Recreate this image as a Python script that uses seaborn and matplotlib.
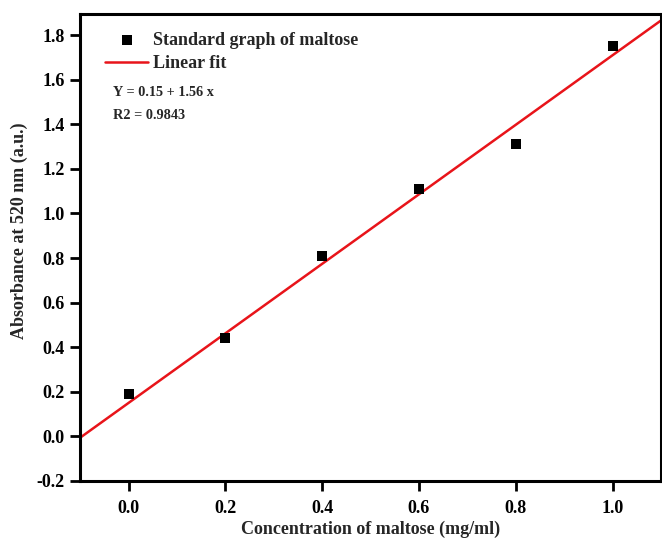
import numpy as np
import pandas as pd
import matplotlib
matplotlib.use("Agg")
import matplotlib.pyplot as plt
import seaborn as sns

# Maltose standard curve
concentration = [0.0, 0.2, 0.4, 0.6, 0.8, 1.0]
absorbance = [0.19, 0.44, 0.81, 1.11, 1.31, 1.75]
fit_intercept = 0.15
fit_slope = 1.56
r2_value = 0.9843
x_ticks = [0.0, 0.2, 0.4, 0.6, 0.8, 1.0]
y_ticks = [-0.2, 0.0, 0.2, 0.4, 0.6, 0.8, 1.0, 1.2, 1.4, 1.6, 1.8]

sns.set_theme(style="ticks")
plt.rcParams["font.family"] = ["Liberation Serif", "DejaVu Serif"]
plt.rcParams["font.weight"] = "bold"

fig = plt.figure(figsize=(6.62, 5.38), dpi=100)
ax = fig.add_axes([0.121, 0.106, 0.8775, 0.868])

xlim = (-0.1, 1.1)
ylim = (-0.2, 1.895)

points = pd.DataFrame({"x": concentration, "y": absorbance})
fit_x = np.array(xlim)
fit = pd.DataFrame({"x": fit_x, "y": fit_intercept + fit_slope * fit_x})

sns.lineplot(data=fit, x="x", y="y", color="#e8141a", linewidth=1.8,
             ax=ax, label="Linear fit", zorder=2)
sns.scatterplot(data=points, x="x", y="y", marker="s", s=60, color="black",
                edgecolor="black", linewidth=0, ax=ax,
                label="Standard graph of maltose", zorder=3)

ax.set_xlim(*xlim)
ax.set_ylim(*ylim)
ax.set_xticks(x_ticks)
ax.set_xticklabels([f"{v:.1f}" for v in x_ticks])
ax.set_yticks(y_ticks)
ax.set_yticklabels([f"{v:.1f}" for v in y_ticks])

for s in ax.spines.values():
    s.set_linewidth(2.2)
    s.set_color("black")
    s.set_visible(True)
ax.tick_params(axis="both", direction="out", length=7, width=2,
               labelsize=13, colors="black")
ax.tick_params(axis="x", pad=7)
ax.tick_params(axis="y", pad=4)
for lab in ax.get_xticklabels() + ax.get_yticklabels():
    lab.set_fontweight("bold")

ax.set_xlabel("Concentration of maltose (mg/ml)", fontsize=13,
              fontweight="bold", labelpad=2)
ax.set_ylabel("Absorbance at 520 nm (a.u.)", fontsize=13,
              fontweight="bold")
ax.yaxis.set_label_coords(-0.089, 0.535)

handles, labels = ax.get_legend_handles_labels()
order = [labels.index("Standard graph of maltose"), labels.index("Linear fit")]
leg = ax.legend([handles[i] for i in order], [labels[i] for i in order],
                loc="upper left", bbox_to_anchor=(0.043, 0.962), frameon=False,
                prop={"family": "Liberation Serif", "weight": "bold", "size": 13},
                handlelength=2.4, handletextpad=0.25, labelspacing=0.35,
                borderaxespad=0.0, borderpad=0.0)

ax.text(0.056, 0.831, f"Y = {fit_intercept:.2f} + {fit_slope:.2f} x",
        transform=ax.transAxes, fontsize=10.3, fontweight="bold",
        va="center", ha="left")
ax.text(0.056, 0.783, f"R2 = {r2_value:.4f}", transform=ax.transAxes,
        fontsize=10.3, fontweight="bold", va="center", ha="left")

fig.savefig("out.png", dpi=100)
